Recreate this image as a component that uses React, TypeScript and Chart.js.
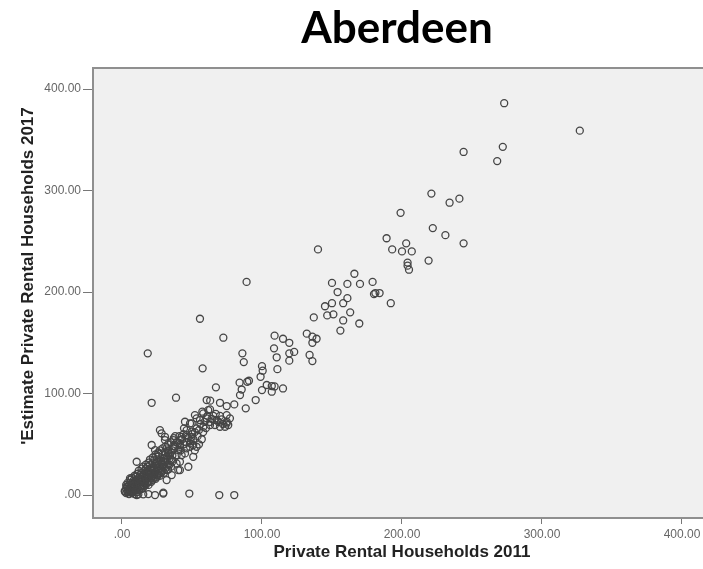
import React, { useEffect, useRef } from "react";
import { Chart, registerables } from "chart.js";

Chart.register(...registerables);

const CHART_TITLE = "Aberdeen";
const X_TITLE = "Private Rental Households 2011";
const Y_TITLE = "'Estimate Private Rental Households 2017";
const TICK_VALUES = [0, 100, 200, 300, 400];
const TICK_LABELS = [".00", "100.00", "200.00", "300.00", "400.00"];

// Private Rental Households 2011 (x) and Estimate 2017 (y), one entry per data zone
const households2011 = [
  273, 327, 244, 272, 268, 221, 234, 241, 199, 189, 193, 200, 203, 207, 222, 231, 244, 219, 204, 204, 205, 192, 184,
  140, 89, 166, 150, 161, 170, 179, 180, 181, 154, 161, 145, 150, 158,
  146.6, 151, 163, 158, 156, 169.5, 137, 132, 136, 139, 136, 134, 136, 109, 115, 119.5, 108.6, 110.5, 119.5, 123, 119.5,
  111, 100, 100.5, 99, 86, 87, 90.7, 84, 85.5, 84.3, 103.4, 107, 109, 115, 100, 107, 95.5, 88.4, 80.2, 74.8, 70, 63, 60.5,
  55.7, 72.4, 18.4, 57.6, 21.2, 38.6, 67.1, 89.5,
  11.7, 15.2, 23.6, 29.5, 48.1, 69.5, 80.2,
  57.4, 62.9, 52.1, 65.2, 60.5, 55.7, 71.2, 74.8, 75.9, 45, 49.8, 44.3, 49.8, 53.3, 58.1, 62.9, 66.4, 70, 49.8, 46.2,
  41.4, 36.7, 30.7, 28.3, 27.1, 48.6, 41.4, 36.7, 31.9, 50.9, 45, 39, 33,
  40.2, 48.6, 41.4, 40.2, 47.4, 50.9, 53.3, 46.2, 48.6, 53.3, 58.1, 61.6, 67.6, 74.8, 74.8, 73.6, 77.1,
  30.7, 42.6, 41.4, 40.2, 42.6, 39, 41.4, 35.5, 21.2, 23.6, 26, 30.7, 10.5, 31.9, 35.5, 31.9, 5.7, 3.3, 2.1, 4.5, 10.5, 18.8, 29.5,
  2, 3, 4, 4, 5, 5, 6, 6, 7, 7, 8, 8, 8, 9, 9, 10, 10, 10, 11, 11, 12, 12, 12, 13, 13, 13, 14, 14, 14, 15, 15, 15,
  16, 16, 16, 17, 17, 17, 18, 18, 18, 19, 19, 19, 20, 20, 20, 21, 21, 21, 22, 22, 22, 23, 23, 23, 24, 24, 25, 25, 25,
  26, 26, 26, 27, 27, 28, 28, 29, 29, 30, 30, 31, 32, 33, 33, 34, 35, 36, 37,
  3, 5, 6, 7, 8, 9, 9, 10, 11, 12, 13, 14, 14, 15, 16, 17, 18, 19, 20, 21, 22, 23, 24, 25, 26, 27, 28, 29, 30, 31,
  32, 33, 34, 35, 36, 3, 4, 6, 7, 9, 11, 12, 14, 15, 17, 19, 20, 22, 24, 26, 27, 29, 31, 33, 35, 37, 38,
  6, 8, 11, 13, 16, 18, 20, 22, 24, 26, 28, 30, 32, 34, 36, 38,
  39, 41, 43, 44, 46, 47, 49, 50, 51, 52, 54, 55, 56, 58, 59, 60, 61, 63, 64, 66, 67, 69, 70, 72, 42, 44, 46, 52, 55, 57,
];

const estimate2017 = [
  386, 359, 338, 343, 329, 297, 288, 292, 278, 253, 242, 240, 248, 240, 263, 256, 248, 231, 229, 226, 222, 189, 199,
  242, 210, 218, 209, 208, 208, 210, 198, 199, 200, 194, 186, 189, 189,
  177, 178, 180, 172, 162, 169, 175, 159, 156, 154, 150, 138, 132, 157, 154, 150, 144.5, 135.7, 139.6, 141, 132.4,
  124, 127, 122.5, 116.5, 139.6, 131, 112.6, 110.7, 104, 98.5, 108.4, 107.4, 107, 105, 103.4, 101.8, 93.6, 85.4, 89.3, 87.7, 90.9, 93, 93.6,
  173.7, 155, 139.6, 124.8, 90.9, 95.9, 106.1, 111.6,
  0.7, 0.7, 0, 1.5, 1.5, 0, 0,
  82.1, 84.4, 78.8, 78.1, 75.6, 73.9, 74.6, 72.2, 69, 72.2, 70.6, 65.7, 62.4, 65.7, 67.3, 69, 69, 67.3, 57.4, 59.1,
  54.2, 54.2, 54.2, 60.8, 64, 47.6, 47.6, 48.3, 46, 49.3, 41, 39.4, 41,
  50.9, 50.9, 32.8, 24.6, 27.9, 37.7, 47.6, 64, 70.6, 75.6, 80.5, 83.7, 73.9, 78.8, 70.6, 67.3, 75.6,
  57.4, 57.4, 49.3, 44.3, 39.4, 31.2, 24.6, 34.5, 49.3, 44.3, 41, 42.7, 32.8, 24.6, 19.7, 14.8, 16.4, 8.2, 3.3, 4.9, 0, 1, 2.3,
  4, 6, 3, 8, 5, 10, 7, 12, 4, 9, 6, 11, 14, 8, 13, 10, 15, 18, 7, 12, 9, 14, 17, 11, 16, 20, 13, 18, 22, 10, 15, 20,
  12, 17, 24, 14, 19, 26, 16, 21, 28, 13, 18, 23, 20, 25, 30, 17, 22, 27, 19, 24, 32, 21, 26, 35, 23, 29, 20, 27, 33,
  24, 30, 38, 22, 28, 26, 34, 30, 40, 28, 36, 33, 38, 30, 44, 36, 42, 39, 46,
  2, 1, 3, 2, 3, 4, 1, 5, 3, 5, 7, 6, 9, 7, 9, 10, 12, 10, 14, 13, 15, 17, 16, 18, 20, 19, 22, 24, 22, 26,
  28, 25, 30, 28, 33, 10, 12, 15, 17, 19, 21, 24, 26, 28, 30, 32, 35, 37, 40, 42, 44, 46, 48, 50, 52, 56, 58,
  9, 9, 15, 14, 20, 24, 22, 27, 31, 33, 31, 33, 35, 40, 44, 48,
  52, 58, 55, 60, 52, 56, 53, 60, 55, 62, 58, 64, 70, 62, 72, 66, 78, 72, 75, 74, 80, 72, 78, 70, 44, 50, 46, 44, 50, 55,
];

const framePlugin = {
  id: "spssFrame",
  beforeDatasetsDraw(chart: any) {
    const { ctx, chartArea: a } = chart;
    ctx.save();
    ctx.fillStyle = "#f0f0f0";
    ctx.fillRect(a.left, a.top, a.right - a.left, a.bottom - a.top);
    ctx.restore();
  },
  afterDraw(chart: any) {
    const { ctx, chartArea: a } = chart;
    ctx.save();
    ctx.strokeStyle = "#8f8f8f";
    ctx.lineWidth = 2;
    ctx.strokeRect(a.left, a.top, a.right - a.left + 6, a.bottom - a.top);

    ctx.fillStyle = "#000";
    ctx.textAlign = "center";
    ctx.textBaseline = "middle";
    ctx.font = "bold 44px Lato, 'Open Sans', sans-serif";
    ctx.fillText(CHART_TITLE, 397, 29);

    ctx.fillStyle = "#222";
    ctx.font = "bold 17px 'Liberation Sans', Arial, sans-serif";
    ctx.fillText(X_TITLE, 402, 552);

    ctx.translate(28, 276);
    ctx.rotate(-Math.PI / 2);
    ctx.fillText(Y_TITLE, 0, 0);
    ctx.restore();
  },
};

export default function App() {
  const ref = useRef<HTMLCanvasElement | null>(null);

  useEffect(() => {
    if (!ref.current) return;
    const points = households2011.map((x, i) => ({ x, y: estimate2017[i] }));
    const tickFont = { family: "'Liberation Sans', Arial, sans-serif", size: 12 };
    const setTicks = (s: any) => {
      s.ticks = TICK_VALUES.map((v) => ({ value: v }));
    };
    const fmt = (v: any) => {
      const i = TICK_VALUES.indexOf(Number(v));
      return i >= 0 ? TICK_LABELS[i] : "";
    };
    const chart = new Chart(ref.current, {
      type: "scatter",
      data: {
        datasets: [
          {
            data: points,
            pointRadius: 3.5,
            pointBorderWidth: 1.3,
            pointBorderColor: "#454545",
            pointBackgroundColor: "rgba(0,0,0,0)",
            pointHoverRadius: 3.5,
          },
        ],
      },
      options: {
        responsive: false,
        animation: false,
        devicePixelRatio: 1,
        layout: { autoPadding: false, padding: { top: 68, left: 0, right: 0, bottom: 0 } },
        plugins: { legend: { display: false }, tooltip: { enabled: false }, title: { display: false } },
        scales: {
          x: {
            type: "linear",
            min: -20.7,
            max: 415,
            afterBuildTicks: setTicks,
            afterFit: (s: any) => {
              s.height = 51;
              s.paddingLeft = 0;
              s.paddingRight = 0;
            },
            grid: { drawOnChartArea: false, drawTicks: true, tickLength: 6, color: "#777", lineWidth: 1 },
            border: { display: false },
            ticks: { font: tickFont, color: "#666", padding: 3, maxRotation: 0, autoSkip: false, callback: fmt },
          },
          y: {
            type: "linear",
            min: -22.6,
            max: 420.7,
            afterBuildTicks: setTicks,
            afterFit: (s: any) => {
              s.width = 93;
              s.paddingTop = 0;
              s.paddingBottom = 0;
            },
            grid: { drawOnChartArea: false, drawTicks: true, tickLength: 10, color: "#777", lineWidth: 1 },
            border: { display: false },
            ticks: { font: tickFont, color: "#666", padding: 2, autoSkip: false, callback: fmt },
          },
        },
      },
      plugins: [framePlugin],
    });
    return () => chart.destroy();
  }, []);

  return (
    <div style={{ position: "fixed", left: 0, top: 0, width: 703, height: 569, background: "#fff" }}>
      <canvas ref={ref} width={703} height={569} style={{ display: "block" }} />
    </div>
  );
}
